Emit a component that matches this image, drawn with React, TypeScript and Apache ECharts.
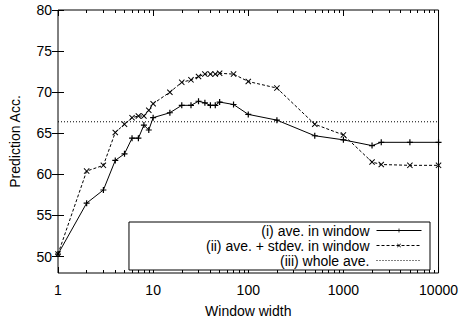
import React, { useEffect, useRef } from "react";
import * as echarts from "echarts";

const windowWidths = [1, 2, 3, 4, 5, 6, 7, 8, 9, 10, 15, 20, 25, 30, 35, 40, 45, 50, 70, 100, 200, 500, 1000, 2000, 2500, 5000, 10000];
const aveInWindow = [50.3, 56.5, 58.1, 61.7, 62.5, 64.4, 64.4, 66.0, 65.4, 66.9, 67.5, 68.4, 68.4, 68.9, 68.7, 68.4, 68.4, 68.8, 68.5, 67.3, 66.6, 64.7, 64.2, 63.5, 63.9, 63.9, 63.9];
const avePlusStdev = [50.3, 60.4, 61.1, 65.1, 66.1, 66.9, 67.1, 67.1, 67.8, 68.6, 70.0, 71.2, 71.5, 71.9, 72.2, 72.2, 72.2, 72.3, 72.2, 71.3, 70.5, 66.1, 64.8, 61.5, 61.2, 61.1, 61.1];
const wholeAve = 66.4;
const xRange = [1, 10000];
const yTicks = [50, 55, 60, 65, 70, 75, 80];
const seriesNames = ["(i) ave. in window", "(ii) ave. + stdev. in window", "(iii) whole ave."];

// minor log ticks (2..9 per decade) expressed as exponents for a helper value axis
const minorExps: number[] = [];
for (let d = 0; d < 4; d++) {
  for (let k = 2; k <= 9; k++) minorExps.push(d + Math.log10(k));
}

const FONT = "Liberation Sans";
const plusSymbol = "path://M2,0H3V2H5V3H3V5H2V3H0V2H2Z";
const crossSymbol = "path://M0,0.7L0.7,0L3,2.3L5.3,0L6,0.7L3.7,3L6,5.3L5.3,6L3,3.7L0.7,6L0,5.3L2.3,3Z";

export default function App() {
  const ref = useRef<HTMLDivElement>(null);
  useEffect(() => {
    if (!ref.current) return;
    const chart = echarts.init(ref.current, undefined, { renderer: "svg" });
    const tickStyle = { color: "#000", width: 1 };
    const majorX = (position: string, showLabel: boolean, extra: any = {}) => ({
      type: "log",
      logBase: 10,
      min: xRange[0],
      max: xRange[1],
      position,
      axisLine: { show: false },
      axisTick: { show: true, inside: true, length: 6, lineStyle: tickStyle },
      axisLabel: {
        show: showLabel,
        color: "#000",
        fontSize: 14,
        fontFamily: FONT,
        margin: 10,
        formatter: (v: number) => String(Math.round(v)),
      },
      splitLine: { show: false },
      ...extra,
    });
    const minorX = (position: string) => ({
      type: "value",
      min: 0,
      max: 4,
      position,
      axisLine: { show: false },
      axisTick: { show: true, inside: true, length: 3, lineStyle: tickStyle, customValues: minorExps },
      axisLabel: { show: false },
      splitLine: { show: false },
    });
    const yAx = (position: string, showLabel: boolean, extra: any = {}) => ({
      type: "value",
      min: 48,
      max: 80,
      position,
      axisLine: { show: false },
      axisTick: { show: true, inside: true, length: 6, lineStyle: tickStyle, customValues: yTicks },
      axisLabel: {
        show: showLabel,
        customValues: yTicks,
        color: "#000",
        fontSize: 14,
        fontFamily: FONT,
        margin: 6,
      },
      splitLine: { show: false },
      ...extra,
    });
    chart.setOption({
      animation: false,
      textStyle: { fontFamily: FONT },
      grid: {
        left: 57,
        right: 22,
        top: 10,
        bottom: 52,
        show: true,
        borderColor: "#000",
        borderWidth: 1,
        backgroundColor: "transparent",
      },
      xAxis: [
        majorX("bottom", true, {
          name: "Window width",
          nameLocation: "middle",
          nameGap: 31,
          nameTextStyle: { color: "#000", fontSize: 14, fontFamily: FONT },
        }),
        minorX("bottom"),
        majorX("top", false),
        minorX("top"),
      ],
      yAxis: [
        yAx("left", true, {
          name: "Prediction Acc.",
          nameLocation: "middle",
          nameGap: 36,
          nameRotate: 90,
          nameTextStyle: { color: "#000", fontSize: 14, fontFamily: FONT },
        }),
        yAx("right", false),
      ],
      legend: {
        orient: "vertical",
        align: "right",
        right: 31,
        top: 222,
        padding: [1, 8, 2, 77],
        itemWidth: 45,
        itemHeight: 5,
        itemGap: 0,
        borderColor: "#000",
        borderWidth: 1,
        backgroundColor: "#fff",
        lineStyle: { width: 1 },
        textStyle: { color: "#000", fontSize: 14, lineHeight: 15, fontFamily: FONT, padding: [0, 2, 0, 0] },
        data: [
          seriesNames[0],
          seriesNames[1],
          { name: seriesNames[2], itemStyle: { opacity: 0 } },
        ],
      },
      series: [
        {
          name: seriesNames[0],
          type: "line",
          xAxisIndex: 0,
          yAxisIndex: 0,
          data: windowWidths.map((x, i) => [x, aveInWindow[i]]),
          symbol: plusSymbol,
          symbolSize: 6,
          showAllSymbol: true,
          lineStyle: { color: "#000", width: 1, type: "solid" },
          itemStyle: { color: "#000" },
          z: 3,
        },
        {
          name: seriesNames[1],
          type: "line",
          xAxisIndex: 0,
          yAxisIndex: 0,
          data: windowWidths.map((x, i) => [x, avePlusStdev[i]]),
          symbol: crossSymbol,
          symbolSize: 6,
          showAllSymbol: true,
          lineStyle: { color: "#000", width: 1, type: [3, 2] },
          itemStyle: { color: "#000" },
          z: 3,
        },
        {
          name: seriesNames[2],
          type: "line",
          xAxisIndex: 0,
          yAxisIndex: 0,
          data: xRange.map((x) => [x, wholeAve]),
          symbol: "none",
          lineStyle: { color: "#000", width: 1, type: [1, 2] },
          itemStyle: { color: "#000" },
          z: 2,
        },
      ],
    });
    return () => chart.dispose();
  }, []);
  return (
    <div
      ref={ref}
      style={{ position: "fixed", left: 0, top: 0, width: 461, height: 325, background: "#fff" }}
    />
  );
}
